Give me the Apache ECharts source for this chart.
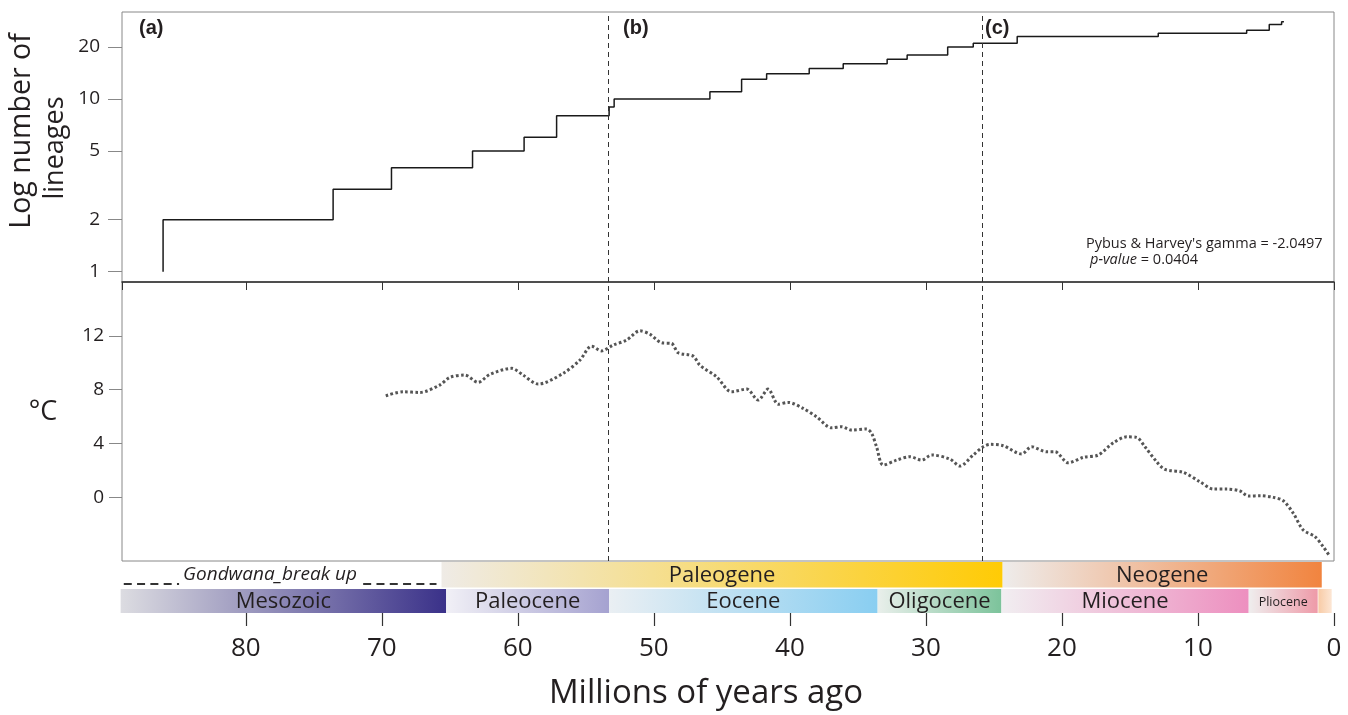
<!DOCTYPE html>
<html>
<head>
<meta charset="utf-8">
<title>Lineages through time and temperature</title>
<script src="https://cdn.jsdelivr.net/npm/echarts@6/dist/echarts.min.js"></script>
<style>
  html, body { margin: 0; padding: 0; background: #fff; }
  #main { width: 1348px; height: 715px; }
</style>
</head>
<body>
<div id="main"></div>
<script>
// lineages through time: age (Ma) of each change and the count after it
const lttAges = [86.08, 86.08, 73.58, 69.29, 63.33, 59.54, 57.15, 53.29, 52.92, 45.88, 43.55, 41.71,
  38.58, 36.08, 32.85, 31.38, 28.40, 26.52, 23.29, 12.92, 6.42, 4.76, 3.85, 3.68]
const lttCounts = [1, 2, 3, 4, 5, 6, 8, 9, 10, 11, 13, 14,
  15, 16, 17, 18, 20, 21, 23, 24, 25, 27, 28, 28]
const lineageTicks = [1, 2, 5, 10, 20]

// paleotemperature curve
const tempAges = [69.71, 68.43, 67.21, 65.74, 65.00, 63.90, 62.92, 62.06, 60.46, 59.61, 58.51, 56.67,
  55.44, 54.58, 53.85, 52.99, 52.01, 51.03, 50.29, 49.43, 48.70, 48.21, 47.11, 46.62, 45.39, 44.29,
  43.18, 42.33, 41.60, 40.86, 40.13, 39.02, 38.04, 36.93, 36.20, 35.46, 34.36, 33.99, 33.63, 33.14,
  32.15, 31.18, 30.32, 29.58, 28.24, 27.50, 26.52, 25.79, 25.29, 24.32, 22.96, 22.23, 21.13, 20.51,
  19.54, 18.43, 17.33, 16.22, 15.24, 14.51, 13.90, 13.04, 12.43, 11.08, 9.85, 8.87, 7.89, 6.91,
  6.30, 5.44, 4.46, 3.73, 2.99, 2.26, 1.40, 0.79, 0.29]
const tempValues = [7.54, 7.84, 7.79, 8.34, 8.91, 9.08, 8.54, 9.13, 9.58, 9.08, 8.41, 9.21,
  10.19, 11.23, 10.88, 11.31, 11.68, 12.37, 12.12, 11.48, 11.43, 10.74, 10.49, 9.82, 8.95, 7.84,
  8.04, 7.22, 8.04, 6.92, 7.05, 6.60, 5.98, 5.16, 5.24, 4.99, 5.07, 4.75, 3.75, 2.39,
  2.76, 3.01, 2.76, 3.14, 2.84, 2.32, 3.14, 3.75, 3.93, 3.83, 3.21, 3.75, 3.38, 3.38,
  2.56, 2.96, 3.14, 4.05, 4.49, 4.45, 3.75, 2.64, 2.07, 1.85, 1.15, 0.61, 0.61, 0.46,
  0.09, 0.11, -0.01, -0.26, -1.20, -2.44, -2.93, -3.68, -4.42]
const tempTicks = [0, 4, 8, 12]

// dashed lines (b) and (c)
const eventAges = [53.38, 25.83]

// geological time scale
const periodNames = ['Paleogene', 'Neogene']
const periodStart = [65.61, 24.36]
const periodEnd = [24.36, 0.90]
const epochNames = ['Mesozoic', 'Paleocene', 'Eocene', 'Oligocene', 'Miocene', 'Pliocene', '']
const epochStart = [89.2, 65.27, 53.29, 33.55, 24.45, 6.27, 1.15]
const epochEnd = [65.27, 53.29, 33.55, 24.45, 6.27, 1.20, 0.17]
const gondwanaSpan = [88.97, 65.98]

const AGE_MAX = 89.1
const FONT = '"Open Sans", "Noto Sans", sans-serif'
const BOLD_FONT = '"Liberation Sans", Arial, sans-serif'

const bandColors = {
  Paleogene: ['#efebe6', '#ffcb05'],
  Neogene: ['#eeeceb', '#f1843f'],
  Mesozoic: ['#dcdce1', '#3a3189'],
  Paleocene: ['#f1f0f6', '#a5a2d0'],
  Eocene: ['#eaeff3', '#89cef1'],
  Oligocene: ['#e9efeb', '#7cc39b'],
  Miocene: ['#f1eef1', '#ed8fbf'],
  Pliocene: ['#efeeee', '#ee9aa8'],
  '': ['#f8cba6', '#fce6d4']
}

function bandSeries (names, starts, ends, yLow, yHigh) {
  return {
    type: 'custom',
    xAxisIndex: 2,
    yAxisIndex: 2,
    silent: true,
    data: names.map((n, i) => [starts[i], ends[i], i]),
    encode: {x: [0, 1]},
    renderItem: function (params, api) {
      let name = names[api.value(2)]
      let p0 = api.coord([api.value(0), yHigh])
      let p1 = api.coord([api.value(1), yLow])
      let c = bandColors[name]
      return {
        type: 'group',
        children: [
          {
            type: 'rect',
            shape: {x: p0[0], y: p0[1], width: p1[0] - p0[0], height: p1[1] - p0[1]},
            style: {
              fill: new echarts.graphic.LinearGradient(0, 0, 1, 0, [
                {offset: 0, color: c[0]}, {offset: 1, color: c[1]}
              ])
            }
          },
          {
            type: 'text',
            x: (p0[0] + p1[0]) / 2,
            y: (p0[1] + p1[1]) / 2 + 1,
            style: {
              text: name,
              align: 'center',
              verticalAlign: 'middle',
              fill: '#231f20',
              fontFamily: FONT,
              fontSize: name === 'Pliocene' ? 12.5 : 22
            }
          }
        ]
      }
    }
  }
}

function panelLabel (text, x) {
  return {type: 'text', z: 100, x: x, y: 28, style: {text: text, fontSize: 20, fontWeight: 'bold',
    fontFamily: BOLD_FONT, fill: '#231f20', verticalAlign: 'middle'}}
}

let chartDom = document.getElementById('main')
let myChart = echarts.init(chartDom)

let eventLines = {
  silent: true,
  symbol: ['none', 'none'],
  label: {show: false},
  lineStyle: {color: '#333', width: 1, type: [5, 4]},
  data: eventAges.map(a => ({xAxis: a}))
}

let hiddenX = {
  type: 'value', inverse: true, min: 0, max: AGE_MAX, interval: 10
}

let option = {
  animation: false,
  grid: [
    {left: 122, top: 12, width: 1212, height: 270, show: true, borderColor: '#888', borderWidth: 1,
      containLabel: false, outerBoundsMode: 'none'},
    {left: 122, top: 282, width: 1212, height: 279, show: true, borderColor: '#888', borderWidth: 1,
      containLabel: false, outerBoundsMode: 'none'},
    {left: 122, top: 562, width: 1212, height: 51, show: false,
      containLabel: false, outerBoundsMode: 'none'}
  ],
  xAxis: [
    Object.assign({}, hiddenX, {
      gridIndex: 0,
      position: 'bottom',
      axisLine: {show: true, onZero: false, lineStyle: {color: '#333', width: 1.5}},
      axisTick: {show: true, inside: false, length: 8, lineStyle: {color: '#333', width: 1}},
      axisLabel: {show: false},
      splitLine: {show: false}
    }),
    Object.assign({}, hiddenX, {gridIndex: 1, show: false, axisLine: {onZero: false}, splitLine: {show: false}}),
    Object.assign({}, hiddenX, {
      gridIndex: 2,
      position: 'bottom',
      axisLine: {show: false, onZero: false},
      axisTick: {show: true, inside: false, length: 13, lineStyle: {color: '#333', width: 1.2}},
      axisLabel: {show: true, margin: 23, fontSize: 26, fontFamily: FONT, color: '#231f20',
        showMaxLabel: false},
      splitLine: {show: false}
    })
  ],
  yAxis: [
    {
      gridIndex: 0,
      type: 'log',
      logBase: 10,
      min: 0.872,
      max: 31.9,
      position: 'left',
      axisLine: {show: false, onZero: false},
      axisTick: {show: true, length: 14, lineStyle: {color: '#888'}, customValues: lineageTicks},
      axisLabel: {show: true, margin: 22, fontSize: 19, fontFamily: FONT, color: '#231f20',
        customValues: lineageTicks, formatter: v => String(Math.round(v))},
      splitLine: {show: false}
    },
    {
      gridIndex: 1,
      type: 'value',
      min: -4.74,
      max: 16,
      position: 'left',
      axisLine: {show: false, onZero: false},
      axisTick: {show: true, length: 13, lineStyle: {color: '#888'}, customValues: tempTicks},
      axisLabel: {show: true, margin: 18, fontSize: 19, fontFamily: FONT, color: '#231f20',
        customValues: tempTicks},
      splitLine: {show: false}
    },
    {gridIndex: 2, type: 'value', min: 0, max: 2, show: false, axisLine: {onZero: false}, splitLine: {show: false}}
  ],
  series: [
    {
      name: 'Lineages',
      type: 'line',
      xAxisIndex: 0,
      yAxisIndex: 0,
      step: 'end',
      showSymbol: false,
      silent: true,
      lineStyle: {color: '#1a1a1a', width: 1.5},
      data: lttAges.map((a, i) => [a, lttCounts[i]]),
      markLine: eventLines
    },
    {
      name: 'Temperature',
      type: 'line',
      xAxisIndex: 1,
      yAxisIndex: 1,
      smooth: 0.3,
      showSymbol: false,
      silent: true,
      lineStyle: {color: '#555', width: 3, type: [2.6, 2.4]},
      data: tempAges.map((a, i) => [a, tempValues[i]]),
      markLine: eventLines
    },
    bandSeries(periodNames, periodStart, periodEnd, 1.0, 2),
    bandSeries(epochNames, epochStart, epochEnd, 0, 0.941),
    {
      name: 'Gondwana',
      type: 'line',
      xAxisIndex: 2,
      yAxisIndex: 2,
      showSymbol: false,
      silent: true,
      lineStyle: {color: '#333', width: 2, type: [8, 5.3]},
      data: [[gondwanaSpan[0], 1.137], [gondwanaSpan[1], 1.137]]
    }
  ],
  graphic: [
    panelLabel('(a)', 139),
    panelLabel('(b)', 623),
    panelLabel('(c)', 985),
    {type: 'text', z: 100, x: 22, y: 131, rotation: Math.PI / 2, style: {text: 'Log number of',
      fontSize: 28.5, fontFamily: FONT, fill: '#231f20', align: 'center', verticalAlign: 'middle'}},
    {type: 'text', z: 100, x: 55, y: 148, rotation: Math.PI / 2, style: {text: 'lineages',
      fontSize: 27, fontFamily: FONT, fill: '#231f20', align: 'center', verticalAlign: 'middle'}},
    {type: 'text', z: 100, x: 43, y: 412, style: {text: '°C', fontSize: 27, fontFamily: FONT,
      fill: '#231f20', align: 'center', verticalAlign: 'middle'}},
    {type: 'text', z: 100, x: 1086, y: 243.5, style: {text: 'Pybus & Harvey\'s gamma = -2.0497',
      fontSize: 14.5, fontFamily: FONT, fill: '#231f20', verticalAlign: 'middle'}},
    {type: 'text', z: 100, x: 1090, y: 260, style: {text: '{i|p-value} = 0.0404',
      fontSize: 14.5, fontFamily: FONT, fill: '#231f20', verticalAlign: 'middle',
      rich: {i: {fontStyle: 'italic', fontSize: 14.5, fontFamily: FONT, fill: '#231f20'}}}},
    {type: 'text', z: 100, x: 270, y: 574.5, style: {text: 'Gondwana_break up', fontSize: 19,
      fontStyle: 'italic', fontFamily: FONT, fill: '#231f20', align: 'center', verticalAlign: 'middle',
      backgroundColor: '#fff', padding: [0, 4, 3, 4]}},
    {type: 'text', z: 100, x: 706, y: 694, style: {text: 'Millions of years ago', fontSize: 33,
      fontFamily: FONT, fill: '#231f20', align: 'center', verticalAlign: 'middle'}}
  ]
}

option && myChart.setOption(option)
</script>
</body>
</html>
